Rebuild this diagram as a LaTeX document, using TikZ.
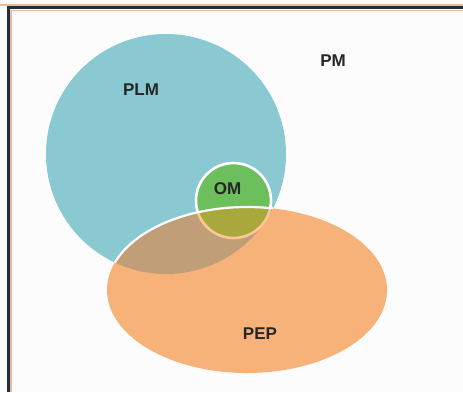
\documentclass[tikz,border=0pt]{standalone}
\usepackage{fontspec}
\setmainfont{Liberation Sans}
\definecolor{plmblue}{HTML}{8AC9D2}
\definecolor{pepor}{HTML}{F7B27A}
\definecolor{omgreen}{HTML}{6DBE5C}
\definecolor{plmpep}{HTML}{C09E78}
\definecolor{ompep}{HTML}{A9A83C}
\definecolor{omrim}{HTML}{FAC894}
\definecolor{framedark}{HTML}{1E3238}
\definecolor{framepeach}{HTML}{F2B89C}
\definecolor{paper}{HTML}{FCFCFD}
\definecolor{labeltext}{HTML}{262626}
\tikzset{
  setlabel/.style={font=\bfseries\fontsize{17}{20}\selectfont, text=labeltext, inner sep=0pt},
}
\begin{document}
\begin{tikzpicture}[x=1pt,y=-1pt]
  \useasboundingbox (0,0) rectangle (463,392);
  \fill[white] (0,0) rectangle (463,392);
  \fill[paper] (9,8) rectangle (463,392);
  % frame lines
  \draw[framepeach, line width=1.6pt] (11,392) -- (11,10.5) -- (463,10.5);
  \draw[framepeach, line width=1.6pt] (0,4.8) -- (463,4.8);
  \draw[framedark, line width=2.6pt] (8.5,392) -- (8.5,7.5) -- (463,7.5);

  % shapes
  \def\plmshape{(166,154) circle[radius=120]}
  \def\pepshape{(247,290) ellipse[x radius=140, y radius=83]}
  \def\omshape{(233.5,200.5) circle[radius=37.5]}

  \fill[plmblue] \plmshape;
  \fill[omgreen] \omshape;
  \draw[white, line width=2.6pt] \omshape;
  \fill[pepor] \pepshape;
  \begin{scope}
    \clip \pepshape;
    \fill[plmpep] \plmshape;
    \fill[ompep] \omshape;
    \draw[omrim, line width=2.6pt] \omshape;
  \end{scope}
  \begin{scope}
    \clip \plmshape;
    \draw[white, line width=2.2pt] \pepshape;
  \end{scope}

  % labels
  \node[setlabel] (plm) at (141,90) {PLM};
  \node[setlabel] (pm) at (333,61) {PM};
  \node[setlabel] (om) at (227.5,189) {OM};
  \node[setlabel] (pep) at (260,333.5) {PEP};
\end{tikzpicture}
\end{document}
